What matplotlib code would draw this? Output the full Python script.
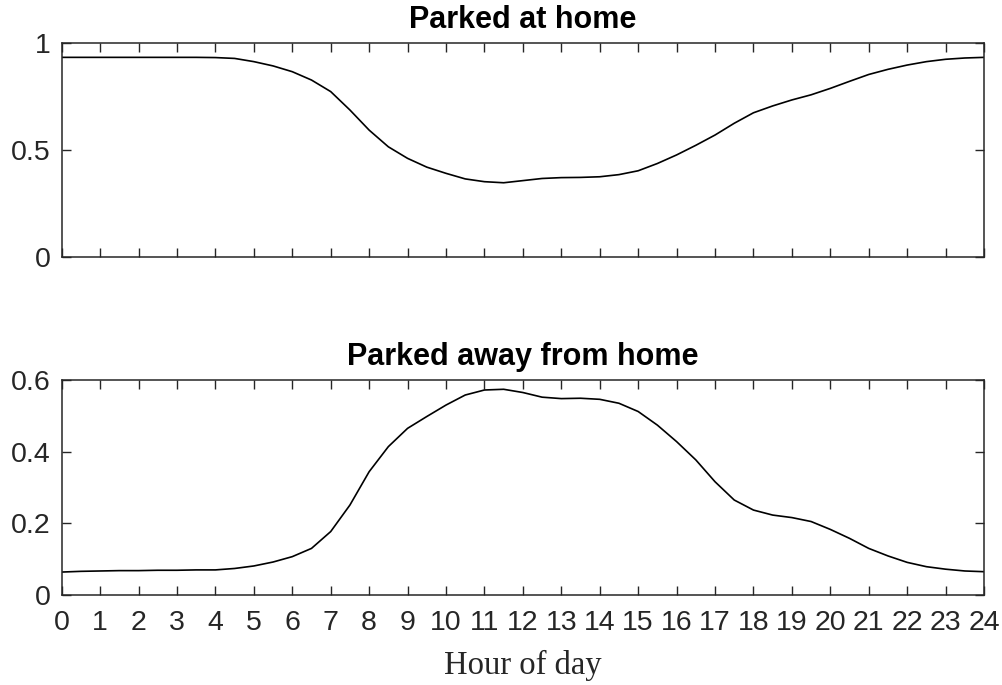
import matplotlib.pyplot as plt
import numpy as np

# hour of day, half-hour steps
hours = np.arange(0, 24.5, 0.5)

# share of vehicles parked at home
at_home = [0.933, 0.933, 0.933, 0.933, 0.933, 0.933, 0.933, 0.933, 0.932, 0.928,
           0.913, 0.893, 0.866, 0.827, 0.773, 0.687, 0.593, 0.515, 0.461, 0.420,
           0.391, 0.365, 0.352, 0.347, 0.357, 0.367, 0.371, 0.372, 0.375, 0.385,
           0.403, 0.437, 0.477, 0.522, 0.570, 0.625, 0.674, 0.706, 0.734, 0.758,
           0.788, 0.821, 0.853, 0.877, 0.897, 0.913, 0.924, 0.930, 0.933]

# share of vehicles parked away from home
away = [0.064, 0.066, 0.067, 0.068, 0.068, 0.069, 0.069, 0.070, 0.070, 0.074,
        0.081, 0.092, 0.107, 0.130, 0.177, 0.251, 0.344, 0.414, 0.465, 0.498,
        0.530, 0.558, 0.572, 0.574, 0.565, 0.552, 0.548, 0.549, 0.546, 0.535,
        0.512, 0.474, 0.428, 0.377, 0.316, 0.265, 0.237, 0.223, 0.216, 0.205,
        0.183, 0.158, 0.130, 0.109, 0.091, 0.079, 0.072, 0.067, 0.065]

xticks = list(range(0, 25))

plt.rcParams['font.family'] = ['Liberation Sans', 'DejaVu Sans']
axcol = '#262626'

fig = plt.figure(figsize=(10.03, 6.85), dpi=100)
ax1 = fig.add_axes([0.0615, 0.6248, 0.9196, 0.3124])
ax2 = fig.add_axes([0.0615, 0.1314, 0.9196, 0.3139])


def style(ax, yticks, ylabels, xlabels):
    ax.set_xlim(0, 24)
    ax.set_xticks(xticks)
    if xlabels:
        ax.set_xticklabels([str(h) for h in xticks])
    else:
        ax.set_xticklabels([])
    ax.set_yticks(yticks)
    ax.set_yticklabels(ylabels)
    ax.tick_params(direction='in', length=6.5, width=1.0, color=axcol,
                   labelcolor=axcol, labelsize=20.5, top=True, right=True)
    ax.tick_params(axis='x', pad=11)
    ax.tick_params(axis='y', pad=8)
    for s in ax.spines.values():
        s.set_color(axcol)
        s.set_linewidth(1.1)


ax1.plot(hours, at_home, color='black', lw=1.2)
ax1.set_ylim(0, 1)
style(ax1, [0, 0.5, 1], ['0', '0.5', '1'], False)
ax1.set_title('Parked at home', fontsize=22, fontweight='bold', pad=11)

ax2.plot(hours, away, color='black', lw=1.2)
ax2.set_ylim(0, 0.6)
style(ax2, [0, 0.2, 0.4, 0.6], ['0', '0.2', '0.4', '0.6'], True)
ax2.set_title('Parked away from home', fontsize=22, fontweight='bold', pad=11)
ax2.set_xlabel('Hour of day', fontsize=23.5, family='Liberation Serif',
               color=axcol, labelpad=10)

fig.savefig('out.png', dpi=100)
